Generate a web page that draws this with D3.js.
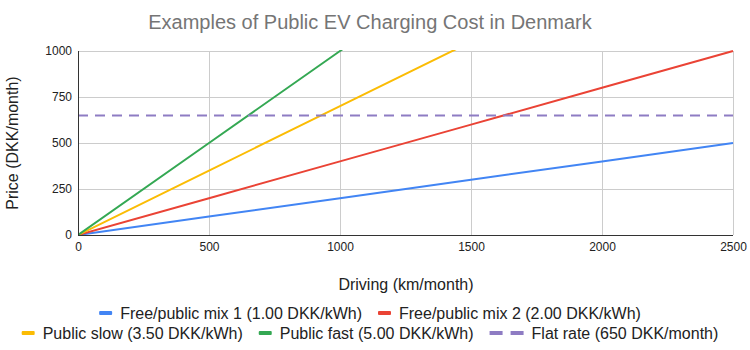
<!DOCTYPE html>
<html><head><meta charset="utf-8">
<script src="https://cdn.jsdelivr.net/npm/d3@7"></script>
<style>body{margin:0;background:#fff;}svg{font-family:"Liberation Sans",Arial,sans-serif;}</style>
</head><body><svg id="c" width="750" height="350"></svg>
<script>
const distances = [0, 500, 1000, 1500, 2000, 2500];
const mix1 = [0, 100, 200, 300, 400, 500];
const mix2 = [0, 200, 400, 600, 800, 1000];
const slow = [0, 350, 700, 1050, 1400, 1750];
const fast = [0, 500, 1000, 1500, 2000, 2500];
const flat = [650, 650, 650, 650, 650, 650];
const xTicks = [0, 500, 1000, 1500, 2000, 2500];
const yTicks = [0, 250, 500, 750, 1000];
const seriesNames = ["Free/public mix 1 (1.00 DKK/kWh)", "Free/public mix 2 (2.00 DKK/kWh)", "Public slow (3.50 DKK/kWh)", "Public fast (5.00 DKK/kWh)", "Flat rate (650 DKK/month)"];
const seriesValues = [mix1, mix2, slow, fast, flat];
const colors = ["#4285F4", "#EA4335", "#FBBC04", "#34A853", "#8E7CC3"];
const legendRows = [[0, 1], [2, 3, 4]];

const svg = d3.select("#c");
const L = 78, R = 733, T = 51, B = 235;
const x = d3.scaleLinear().domain([0, 2500]).range([L, R]);
const y = d3.scaleLinear().domain([0, 1000]).range([B, T]);

svg.append("text").attr("x", 370).attr("y", 29).attr("text-anchor", "middle")
  .attr("font-size", 20).attr("fill", "#757575").text("Examples of Public EV Charging Cost in Denmark");

// grid
svg.append("g").selectAll("line").data(yTicks.filter(d => d > 0)).join("line")
  .attr("x1", L).attr("x2", R).attr("y1", d => y(d)).attr("y2", d => y(d))
  .attr("stroke", "#ccc").attr("stroke-width", 1).attr("shape-rendering", "crispEdges");
svg.append("g").selectAll("line").data(xTicks.filter(d => d > 0)).join("line")
  .attr("x1", d => x(d)).attr("x2", d => x(d)).attr("y1", T).attr("y2", B)
  .attr("stroke", "#ccc").attr("stroke-width", 1).attr("shape-rendering", "crispEdges");

// axes
const xa = svg.append("g").attr("transform", `translate(0,${B})`)
  .call(d3.axisBottom(x).tickValues(xTicks).tickSize(0).tickPadding(7).tickFormat(d3.format("d")));
const ya = svg.append("g").attr("transform", `translate(${L},0)`)
  .call(d3.axisLeft(y).tickValues(yTicks).tickSize(0).tickPadding(6).tickFormat(d3.format("d")));
[xa, ya].forEach(a => {
  a.select(".domain").remove();
  a.selectAll("text").attr("font-size", 12).attr("fill", "#222").attr("font-family", "Liberation Sans, Arial, sans-serif");
});

svg.append("defs").append("clipPath").attr("id", "clip").append("rect")
  .attr("x", L).attr("y", T - 1).attr("width", R - L + 1).attr("height", B - T + 1);

const line = d3.line().x((d, i) => x(distances[i])).y(d => y(d));
const lg = svg.append("g").attr("clip-path", "url(#clip)");
seriesValues.forEach((vals, i) => {
  const p = lg.append("path").datum(vals).attr("d", line).attr("fill", "none")
    .attr("stroke", colors[i]).attr("stroke-width", 2);
  if (i === 4) p.attr("stroke-dasharray", "10,7");
});

svg.append("line").attr("x1", L).attr("x2", L).attr("y1", T).attr("y2", B).attr("stroke", "#333").attr("shape-rendering", "crispEdges");
svg.append("line").attr("x1", L).attr("x2", R).attr("y1", B).attr("y2", B).attr("stroke", "#333").attr("shape-rendering", "crispEdges");

svg.append("text").attr("x", 406).attr("y", 290).attr("text-anchor", "middle")
  .attr("font-size", 16).attr("fill", "#222").text("Driving (km/month)");
svg.append("text").attr("transform", `translate(18,143) rotate(-90)`).attr("text-anchor", "middle")
  .attr("font-size", 16).attr("fill", "#222").text("Price (DKK/month)");

// legend (flow layout, rows centered)
const rowY = [313, 333];
legendRows.forEach((row, r) => {
  const g = svg.append("g");
  let cx = 0;
  row.forEach((i, k) => {
    const ly = rowY[r];
    let mw;
    if (i === 4) {
      mw = 34;
      g.append("line").attr("x1", cx).attr("x2", cx + mw).attr("y1", ly).attr("y2", ly)
        .attr("stroke", colors[i]).attr("stroke-width", 4).attr("stroke-dasharray", "13,8");
    } else {
      mw = 13;
      g.append("rect").attr("x", cx).attr("y", ly - 2).attr("width", mw).attr("height", 4).attr("rx", 1).attr("fill", colors[i]);
    }
    const t = g.append("text").attr("x", cx + mw + 8).attr("y", ly + 5.5).attr("font-size", 16).attr("fill", "#222").text(seriesNames[i]);
    cx += mw + 8 + t.node().getComputedTextLength();
    if (k < row.length - 1) cx += 16;
  });
  g.attr("transform", `translate(${370 - cx / 2},0)`);
});
</script></body></html>
